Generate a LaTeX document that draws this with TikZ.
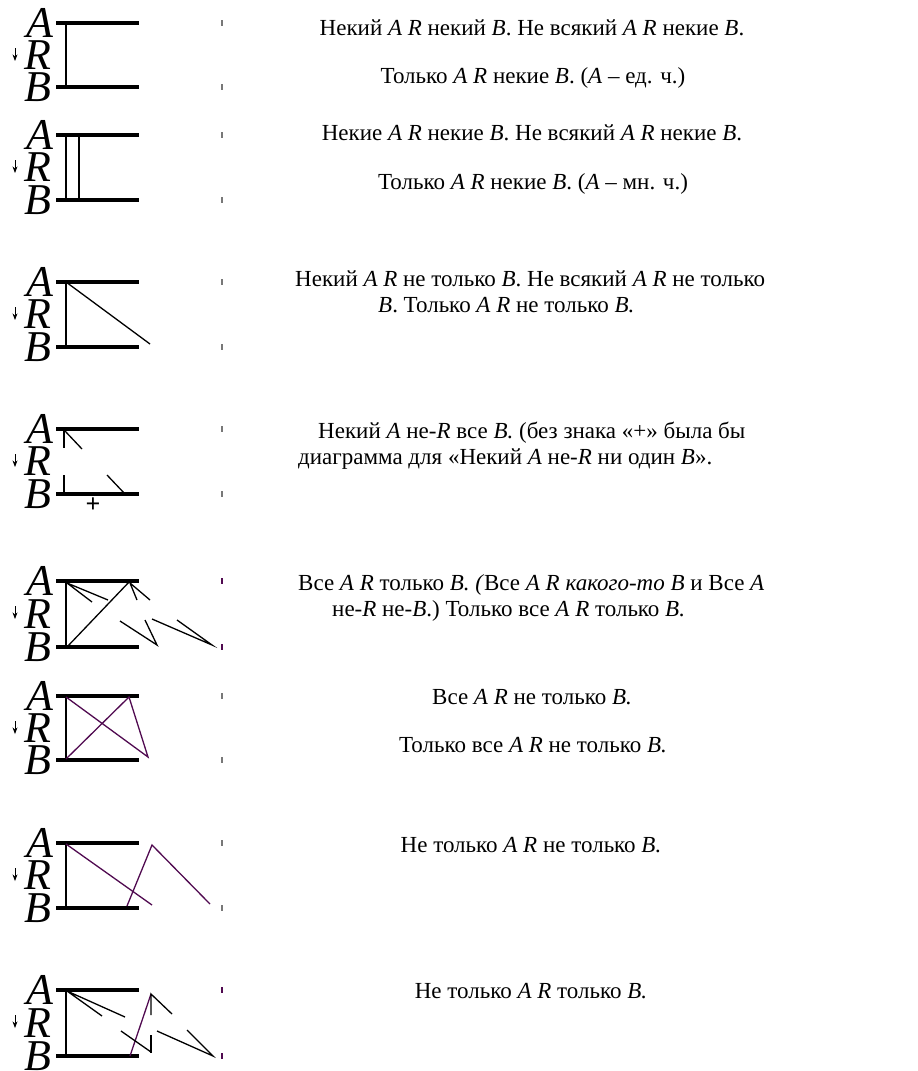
\documentclass[tikz,border=0pt]{standalone}
\usepackage{fontspec}
\setmainfont{Liberation Serif}
\usepackage{xcolor}
\definecolor{linkpurple}{RGB}{80,10,80}
\definecolor{tickgray}{RGB}{120,120,120}
\usepackage{tikz}
\usetikzlibrary{arrows.meta}

\tikzset{
  bar/.style={line width=4.5pt},
  stem/.style={line width=1.8pt},
  link/.style={line width=1.3pt},
  linkp/.style={line width=1.3pt, linkpurple},
  letter/.style={font=\fontsize{44}{44}\selectfont\itshape, inner sep=0pt},
  caption/.style={font=\fontsize{23}{26}\selectfont, inner sep=0pt, anchor=base},
  lcaption/.style={caption, anchor=base west},
  tickmark/.style={line width=2pt, tickgray},
}

\begin{document}
\begin{tikzpicture}[x=1pt, y=-1pt, >=Stealth]
    \useasboundingbox (0,0) rectangle (918,1071);
    % the eight A-R-B frames
    \foreach \n/\t/\b/\tc in {1/23/87/tickgray, 2/135/200/tickgray, 3/282/347/tickgray,
        4/429/494/tickgray, 5/581/647/linkpurple, 6/696/760/tickgray,
        7/843/908/tickgray, 8/990/1056/linkpurple} {
      \node[letter] (A\n) at (40,\t) {A};
      \node[letter] (R\n) at (38,{(\t+\b)/2}) {R};
      \node[letter] (B\n) at (38,\b) {B};
      \draw[bar] (56,\t) -- (139,\t);
      \draw[bar] (56,\b) -- (139,\b);
      \draw[->, line width=0.8pt] (15,\t+25) -- (15,\t+38);
      \draw[tickmark, \tc] (222,\t-3) -- (222,\t+3);
      \draw[tickmark, \tc] (222,\b-3) -- (222,\b+3);
    }
    \foreach \t/\b in {23/87, 135/200, 282/347, 581/647, 696/760, 843/908, 990/1056}
      \draw[stem] (66,\t) -- (66,\b);

    % 2
    \draw[stem] (79,135) -- (79,200);
    % 3
    \draw[link] (66,282) -- (150,344);
    % 4
    \draw[stem] (64,429) -- (64,448);
    \draw[link] (65,431) -- (82,449);
    \draw[stem] (64,475) -- (64,494);
    \draw[link] (107,475) -- (125,494);
    \node[font=\fontsize{26}{26}\selectfont\bfseries, inner sep=0pt] (plus) at (93,505) {+};
    % 5
    \draw[link] (92,602) -- (67,583) -- (108,600);
    \draw[link] (137,600) -- (130,583) -- (150,600);
    \draw[link] (67,647) -- (130,581);
    \draw[link] (120,621) -- (157,645) -- (145,620);
    \draw[link] (152,619) -- (212,645) -- (177,620);
    % 6
    \draw[linkp] (66,697) -- (148,757) -- (129,697) -- (66,759);
    % 7
    \draw[linkp] (66,844) -- (152,905);
    \draw[linkp] (127,906) -- (152,845) -- (210,904);
    % 8
    \draw[link] (102,1016) -- (67,991) -- (125,1017);
    \draw[linkp] (130,1056) -- (151,994);
    \draw[link] (151,1015) -- (151,994) -- (172,1014);
    \draw[link] (151,1035) -- (151,1053);
    \draw[link] (121,1031) -- (151,1052);
    \draw[link] (157,1031) -- (213,1056) -- (187,1030);

    % captions
    \node[caption] (t1) at (532,35) {Некий \textit{A R} некий \textit{B}. Не всякий \textit{A R} некие \textit{B}.};
    \node[caption] (t2) at (533,83) {Только \textit{A R} некие \textit{B}. (\textit{A} – ед. ч.)};
    \node[caption] (t3) at (532,140) {Некие \textit{A R} некие \textit{B}. Не всякий \textit{A R} некие \textit{B}.};
    \node[caption] (t4) at (533,189) {Только \textit{A R} некие \textit{B}. (\textit{A} – мн. ч.)};
    \node[lcaption] (t5) at (295,286) {Некий \textit{A R} не только \textit{B}. Не всякий \textit{A R} не только};
    \node[lcaption] (t6) at (378,312) {\textit{B}. Только \textit{A R} не только \textit{B.}};
    \node[lcaption] (t7) at (318,438) {Некий \textit{A} не-\textit{R} все \textit{B.} (без знака «+» была бы};
    \node[lcaption] (t8) at (298,464) {диаграмма для «Некий \textit{A} не-\textit{R} ни один \textit{B}».};
    \node[lcaption] (t9) at (298,590) {Все \textit{A R} только \textit{B. (}Все \textit{A R какого-то B} и Все \textit{A}};
    \node[lcaption] (t10) at (332,616) {не-\textit{R} не-\textit{B}.) Только все \textit{A R} только \textit{B.}};
    \node[caption] (t11) at (532,704) {Все \textit{A R} не только \textit{B.}};
    \node[caption] (t12) at (533,752) {Только все \textit{A R} не только \textit{B.}};
    \node[caption] (t13) at (531,852) {Не только \textit{A R} не только \textit{B.}};
    \node[caption] (t14) at (531,998) {Не только \textit{A R} только \textit{B.}};
\end{tikzpicture}
\end{document}
